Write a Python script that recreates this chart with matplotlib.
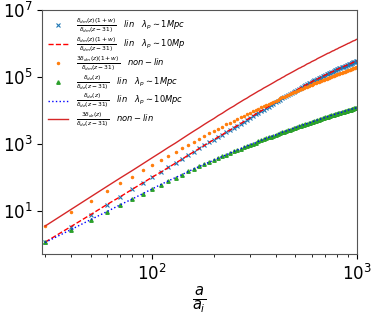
import numpy as np
import matplotlib
matplotlib.use('Agg')
import matplotlib.pyplot as plt

# a/a_i grid (paso de 10)
a_ratio = list(range(30, 1001, 10))

# log10 de cada serie
dm_lin_log = [0.08, 0.54, 0.90, 1.20, 1.44, 1.66, 1.85, 2.02,
              2.17, 2.31, 2.44, 2.56, 2.68, 2.78, 2.88, 2.97, 3.06, 3.14,
              3.22, 3.29, 3.37, 3.43, 3.50, 3.56, 3.62, 3.68, 3.74, 3.79,
              3.85, 3.90, 3.95, 4.00, 4.04, 4.09, 4.13, 4.18, 4.22, 4.26,
              4.30, 4.34, 4.37, 4.41, 4.45, 4.48, 4.51, 4.54, 4.57, 4.60,
              4.63, 4.66, 4.69, 4.72, 4.74, 4.77, 4.79, 4.82, 4.84, 4.87,
              4.89, 4.91, 4.93, 4.95, 4.97, 4.99, 5.01, 5.03, 5.05, 5.07,
              5.09, 5.11, 5.12, 5.14, 5.16, 5.17, 5.19, 5.21, 5.22, 5.24,
              5.25, 5.27, 5.28, 5.30, 5.31, 5.32, 5.34, 5.35, 5.36, 5.38,
              5.39, 5.40, 5.41, 5.42, 5.44, 5.45, 5.46, 5.47, 5.48, 5.49]

de_lin_log = [0.07, 0.45, 0.75, 0.99, 1.20, 1.37, 1.53, 1.67,
              1.80, 1.91, 2.01, 2.10, 2.19, 2.27, 2.34, 2.41, 2.47, 2.53,
              2.59, 2.64, 2.69, 2.74, 2.79, 2.83, 2.87, 2.91, 2.95, 2.99,
              3.02, 3.05, 3.09, 3.12, 3.15, 3.18, 3.21, 3.23, 3.26, 3.28,
              3.31, 3.33, 3.36, 3.38, 3.40, 3.42, 3.44, 3.46, 3.48, 3.50,
              3.52, 3.54, 3.56, 3.57, 3.59, 3.61, 3.62, 3.64, 3.65, 3.67,
              3.68, 3.70, 3.71, 3.73, 3.74, 3.75, 3.77, 3.78, 3.79, 3.81,
              3.82, 3.83, 3.84, 3.85, 3.87, 3.88, 3.89, 3.90, 3.91, 3.92,
              3.93, 3.94, 3.95, 3.96, 3.97, 3.98, 3.99, 4.00, 4.01, 4.02,
              4.03, 4.03, 4.04, 4.05, 4.06, 4.07, 4.08, 4.08, 4.09, 4.10]

dm_nonlin_log = [0.55, 0.98, 1.32, 1.60, 1.84, 2.04, 2.22, 2.38,
                 2.52, 2.66, 2.78, 2.89, 2.99, 3.08, 3.17, 3.25, 3.33, 3.40,
                 3.47, 3.53, 3.60, 3.65, 3.71, 3.76, 3.81, 3.86, 3.90, 3.95,
                 3.99, 4.03, 4.07, 4.11, 4.14, 4.18, 4.21, 4.25, 4.28, 4.31,
                 4.34, 4.37, 4.40, 4.42, 4.45, 4.48, 4.50, 4.53, 4.55, 4.57,
                 4.60, 4.62, 4.64, 4.66, 4.68, 4.70, 4.72, 4.74, 4.76, 4.78,
                 4.80, 4.82, 4.83, 4.85, 4.87, 4.88, 4.90, 4.92, 4.93, 4.95,
                 4.96, 4.98, 4.99, 5.01, 5.02, 5.03, 5.05, 5.06, 5.07, 5.09,
                 5.10, 5.11, 5.12, 5.14, 5.15, 5.16, 5.17, 5.18, 5.20, 5.21,
                 5.22, 5.23, 5.24, 5.25, 5.26, 5.27, 5.28, 5.29, 5.30, 5.31]

de_nonlin_log = [0.56, 1.05, 1.43, 1.74, 2.00, 2.22, 2.42, 2.60,
                 2.76, 2.91, 3.04, 3.17, 3.29, 3.40, 3.50, 3.60, 3.69, 3.77,
                 3.86, 3.93, 4.01, 4.08, 4.14, 4.21, 4.27, 4.33, 4.38, 4.44,
                 4.49, 4.54, 4.59, 4.63, 4.68, 4.72, 4.76, 4.80, 4.84, 4.88,
                 4.92, 4.95, 4.99, 5.02, 5.06, 5.09, 5.12, 5.15, 5.18, 5.21,
                 5.24, 5.27, 5.29, 5.32, 5.34, 5.37, 5.40, 5.42, 5.44, 5.47,
                 5.49, 5.51, 5.53, 5.56, 5.58, 5.60, 5.62, 5.64, 5.66, 5.68,
                 5.70, 5.72, 5.73, 5.75, 5.77, 5.79, 5.80, 5.82, 5.84, 5.85,
                 5.87, 5.89, 5.90, 5.92, 5.93, 5.95, 5.96, 5.98, 5.99, 6.01,
                 6.02, 6.03, 6.05, 6.06, 6.08, 6.09, 6.10, 6.11, 6.13, 6.14]

labels = [r'$\frac{\delta_{dm}(z)(1+w)}{\delta_{dm}(z-31)}\quad lin\quad \lambda_p\sim 1Mpc$',
          r'$\frac{\delta_{dm}(z)(1+w)}{\delta_{dm}(z-31)}\quad lin\quad \lambda_p\sim 10Mp$',
          r'$\frac{3\delta_{dm}(z)(1+w)}{\delta_{dm}(z-31)}\quad non-lin$',
          r'$\frac{\delta_{de}(z)}{\delta_{de}(z-31)}\quad lin\quad \lambda_p\sim 1Mpc$',
          r'$\frac{\delta_{de}(z)}{\delta_{de}(z-31)}\quad lin\quad \lambda_p\sim 10Mpc$',
          r'$\frac{3\delta_{de}(z)}{\delta_{de}(z-31)}\quad non-lin$']

x = np.array(a_ratio)
y_dm = 10 ** np.array(dm_lin_log)
y_de = 10 ** np.array(de_lin_log)
y_dm_nl = 10 ** np.array(dm_nonlin_log)
y_de_nl = 10 ** np.array(de_nonlin_log)

fig = plt.figure(figsize=(3.79, 3.16), dpi=100)
ax = fig.add_axes([0.111, 0.196, 0.831, 0.771])

ax.plot(x, y_dm, 'x', color='C0', ms=3, mew=0.8, label=labels[0])
ax.plot(x, y_dm, '--', color='red', lw=1, label=labels[1])
ax.plot(x, y_dm_nl, '.', color='C1', ms=3, label=labels[2])
ax.plot(x, y_de, '^', color='C2', ms=2.5, label=labels[3])
ax.plot(x, y_de, ':', color='blue', lw=1, label=labels[4])
ax.plot(x, y_de_nl, '-', color='C3', lw=1, label=labels[5])

ax.set_xscale('log')
ax.set_yscale('log')
ax.set_xlim(29, 1000)
ax.set_ylim(0.53, 1e7)
ax.set_yticks([1e1, 1e3, 1e5, 1e7])
ax.yaxis.set_minor_locator(matplotlib.ticker.NullLocator())
ax.tick_params(labelsize=12)
ax.set_xlabel(r'$\frac{a}{a_i}$', fontsize=15, labelpad=1)
for s in ax.spines.values():
    s.set_color('#555555')

ax.legend(loc='upper left', frameon=False, fontsize=6, handlelength=2.4,
          labelspacing=0.05, borderaxespad=0.3, handletextpad=1.0)

fig.savefig('out.png', dpi=100)
